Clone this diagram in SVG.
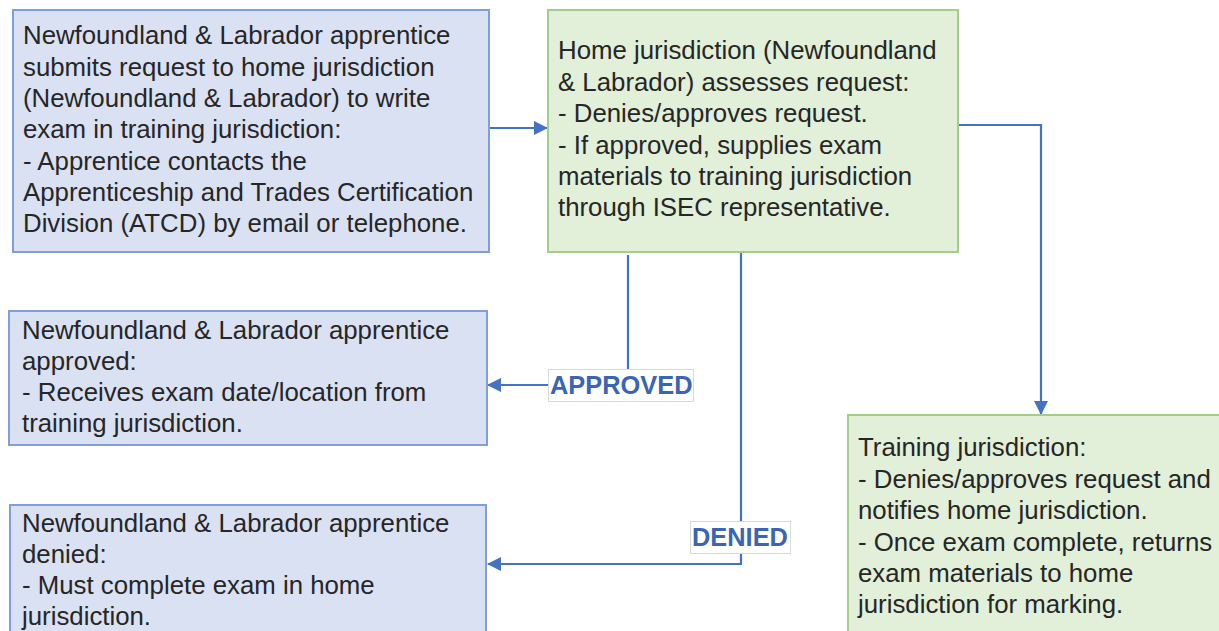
<svg xmlns="http://www.w3.org/2000/svg" width="1219" height="631" viewBox="0 0 1219 631">
<defs>
<style>
.blue{fill:#dae1f3;stroke:#7f9fdb;stroke-width:2}
.green{fill:#e2efd9;stroke:#a3cd88;stroke-width:2}
.t{font-family:"Liberation Sans",Arial,sans-serif;font-size:25.8px;fill:#262626}
.c{fill:none;stroke:#4472c4;stroke-width:2.2}
.lbl{font-family:"Liberation Sans",Arial,sans-serif;font-size:25.4px;font-weight:bold;fill:#3c64b4}
.lblbox{fill:#fff;stroke:#d9d9d9;stroke-width:1}
</style>
<marker id="arr" markerWidth="14" markerHeight="14" viewBox="0 0 14 14" refX="13" refY="7" orient="auto" markerUnits="userSpaceOnUse">
<path d="M0,0 L14,7 L0,14 Z" fill="#4472c4"/>
</marker>
</defs>
<rect width="1219" height="631" fill="#fff"/>
<g id="connectors">
<path class="c" d="M489,128 H547" marker-end="url(#arr)"/>
<path class="c" d="M958,125 H1041 V414" marker-end="url(#arr)"/>
<path class="c" d="M628,255 V370"/>
<path class="c" d="M549,385 H488" marker-end="url(#arr)"/>
<path class="c" d="M741,252 V564 H488" marker-end="url(#arr)"/>
<g id="label-approved">
<rect class="lblbox" x="548.5" y="369.5" width="145" height="32"/>
<text class="lbl" x="550" y="394">APPROVED</text>
</g>
<g id="label-denied">
<rect class="lblbox" x="690.5" y="521.5" width="100" height="32"/>
<text class="lbl" x="692" y="546">DENIED</text>
</g>
</g>
<g id="n1">
<rect class="blue" x="13" y="10" width="476" height="242"/>
<text class="t" x="23" y="44">Newfoundland &amp; Labrador apprentice</text>
<text class="t" x="23" y="75.5">submits request to home jurisdiction</text>
<text class="t" x="23" y="107">(Newfoundland &amp; Labrador) to write</text>
<text class="t" x="23" y="138">exam in training jurisdiction:</text>
<text class="t" x="23" y="169.5">- Apprentice contacts the</text>
<text class="t" x="23" y="201">Apprenticeship and Trades Certification</text>
<text class="t" x="23" y="232">Division (ATCD) by email or telephone.</text>
</g>
<g id="n2">
<rect class="green" x="548" y="10" width="410" height="242"/>
<text class="t" x="558" y="59">Home jurisdiction (Newfoundland</text>
<text class="t" x="558" y="91">&amp; Labrador) assesses request:</text>
<text class="t" x="558" y="122">- Denies/approves request.</text>
<text class="t" x="558" y="154">- If approved, supplies exam</text>
<text class="t" x="558" y="185">materials to training jurisdiction</text>
<text class="t" x="558" y="216">through ISEC representative.</text>
</g>
<g id="n3">
<rect class="blue" x="9" y="311" width="478" height="134"/>
<text class="t" x="22" y="339">Newfoundland &amp; Labrador apprentice</text>
<text class="t" x="22" y="370">approved:</text>
<text class="t" x="22" y="401">- Receives exam date/location from</text>
<text class="t" x="22" y="432">training jurisdiction.</text>
</g>
<g id="n4">
<rect class="blue" x="10" y="505" width="476" height="140"/>
<text class="t" x="22" y="532">Newfoundland &amp; Labrador apprentice</text>
<text class="t" x="22" y="563">denied:</text>
<text class="t" x="22" y="594">- Must complete exam in home</text>
<text class="t" x="22" y="625">jurisdiction.</text>
</g>
<g id="n5">
<rect class="green" x="848" y="415" width="380" height="230"/>
<text class="t" x="858" y="456">Training jurisdiction:</text>
<text class="t" x="858" y="488">- Denies/approves request and</text>
<text class="t" x="858" y="519">notifies home jurisdiction.</text>
<text class="t" x="858" y="551">- Once exam complete, returns</text>
<text class="t" x="858" y="582">exam materials to home</text>
<text class="t" x="858" y="613">jurisdiction for marking.</text>
</g>
</svg>
